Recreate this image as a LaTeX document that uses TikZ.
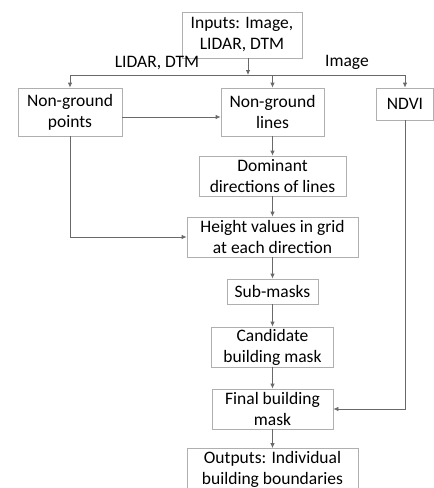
\documentclass[tikz,border=0pt]{standalone}
\usepackage{fontspec}
\setmainfont{Carlito}
\usetikzlibrary{arrows.meta,calc}
\definecolor{boxgray}{RGB}{175,175,175}
\definecolor{arrgray}{RGB}{105,105,105}
\tikzset{
  x=1pt, y=-1pt,
  procbox/.style = {draw=boxgray, line width=0.8pt, align=center, inner sep=0pt, fill=white,
    font=\fontsize{17.5}{21}\selectfont},
  flowlabel/.style = {inner sep=0pt, font=\fontsize{17.5}{21}\selectfont},
  flow/.style = {draw=arrgray, line width=0.8pt, -{Latex[length=5pt,width=4.5pt]}}
}
\begin{document}
\begin{tikzpicture}
	\useasboundingbox (0,0) rectangle (434,488);
	\node [procbox, minimum width=120, minimum height=46] (inputs) at (242,35) {Inputs: Image,\\LIDAR, DTM};
	\node [procbox, minimum width=104, minimum height=48] (ngpoints) at (70,112) {Non-ground\\points};
	\node [procbox, minimum width=103, minimum height=48] (nglines) at (272.5,112) {Non-ground\\lines};
	\node [procbox, minimum width=57, minimum height=32] (ndvi) at (405,104) {NDVI};
	\node [procbox, minimum width=147, minimum height=40] (dominant) at (272.5,176) {Dominant\\directions of lines};
	\node [procbox, minimum width=171, minimum height=40] (height) at (272.5,237) {Height values in grid\\at each direction};
	\node [procbox, minimum width=91, minimum height=25] (submasks) at (272.5,291.5) {Sub-masks};
	\node [procbox, minimum width=122, minimum height=40] (candidate) at (272.5,347) {Candidate\\building mask};
	\node [procbox, minimum width=121, minimum height=40] (final) at (272.5,409) {Final building\\mask};
	\node [procbox, minimum width=171, minimum height=42] (outputs) at (272.5,469.5) {Outputs: Individual\\building boundaries};
	\node [flowlabel] (lbllidar) at (157,63) {LIDAR, DTM};
	\node [flowlabel] (lblimage) at (347,62) {Image};
	\coordinate (split) at (248,75);

	\draw [flow] (inputs.south -| split) -- (split);
	\draw [flow] (split) -| (ngpoints.north);
	\draw [flow] (split) -| (ndvi.north);
	\draw [flow] (split -| nglines) -- (nglines.north);
	\draw [flow] ([yshift=-5pt]ngpoints.east) -- ([yshift=-5pt]nglines.west);
	\draw [flow] (nglines) -- (dominant);
	\draw [flow] (dominant) -- (height);
	\draw [flow] (ngpoints.south) |- (height.west);
	\draw [flow] (height) -- (submasks);
	\draw [flow] (submasks) -- (candidate);
	\draw [flow] (candidate) -- (final);
	\draw [flow] (ndvi.south) |- (final.east);
	\draw [flow] (final) -- (outputs);
\end{tikzpicture}
\end{document}
